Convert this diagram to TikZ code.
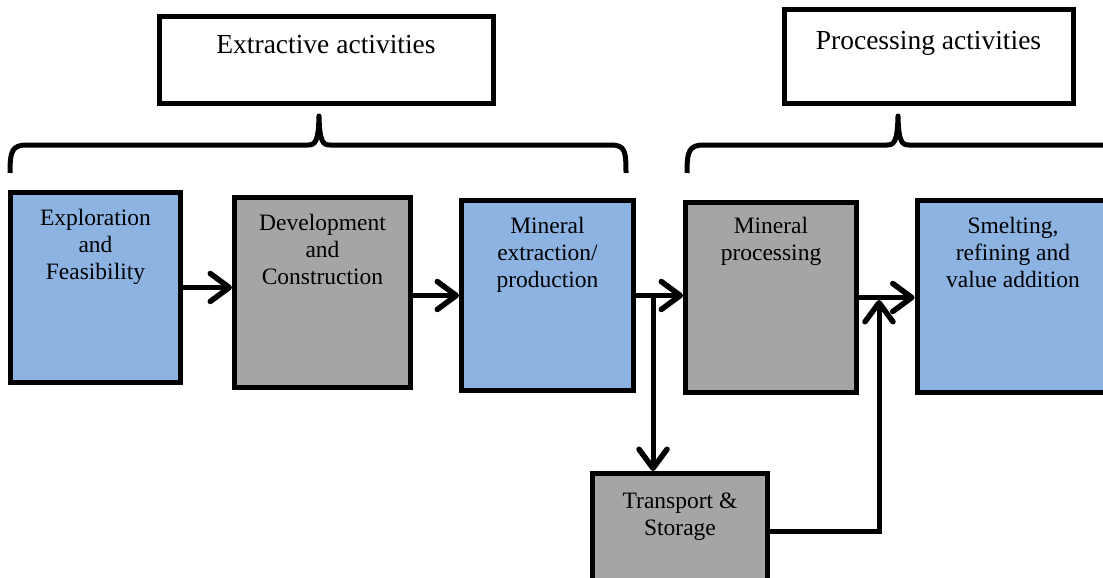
\documentclass[tikz,border=0pt]{standalone}
\usepackage{fontspec}
\setmainfont{Liberation Serif}
\usetikzlibrary{arrows.meta}
\definecolor{stageblue}{HTML}{8DB3E2}
\definecolor{stagegray}{HTML}{A5A5A5}
% centred multi-line text whose baseline is that of the first line
\newcommand{\stagetext}[1]{\parbox[t]{240pt}{\centering #1}}

\begin{document}
\begin{tikzpicture}[x=1pt,y=-1pt,
  stagebox/.style={draw=black, line width=5pt, inner sep=0pt, outer sep=2.5pt},
  blue box/.style={stagebox, fill=stageblue},
  gray box/.style={stagebox, fill=stagegray},
  headbox/.style={stagebox, fill=white},
  stagelabel/.style={anchor=base, inner sep=0pt, font=\fontsize{23.5}{27}\selectfont},
  headlabel/.style={anchor=base, inner sep=0pt, font=\fontsize{27.5}{32}\selectfont},
  flow/.style={line width=5pt, -{Straight Barb[length=19pt,width=28pt,round,line width=5.5pt]}},
  bracket/.style={line width=5pt, line join=round}
]
\useasboundingbox (0,0) rectangle (1103,578);
\fill[white] (0,0) rectangle (1103,578);
\clip (0,0) rectangle (1103,578);

% group headings
\node[headbox, minimum width=334pt, minimum height=86pt] (h1) at (326,60) {};
\node[headlabel] (h1t) at (326,54) {Extractive activities};
\node[headbox, minimum width=289pt, minimum height=93pt] (h2) at (928.5,56.5) {};
\node[headlabel] (h2t) at (928.5,49) {Processing activities};

% curly brackets under the headings
\draw[bracket] (10,173) .. controls (10,151) and (12,145) .. (27,145) -- (308,145)
  .. controls (315,145) and (318.5,142) .. (319,116)
  .. controls (319.5,142) and (323,145) .. (330,145) -- (611,145)
  .. controls (625,145) and (626,151) .. (626,173);
\draw[bracket] (687,173) .. controls (687,151) and (689,145) .. (704,145) -- (887,145)
  .. controls (894,145) and (897.5,142) .. (898,116)
  .. controls (898.5,142) and (902,145) .. (909,145) -- (1130,145);

% stages
\node[blue box, minimum width=170pt, minimum height=190pt] (b1) at (95.5,287.5) {};
\node[gray box, minimum width=176pt, minimum height=190pt] (b2) at (322.5,292.5) {};
\node[blue box, minimum width=172pt, minimum height=190pt] (b3) at (547.5,295.5) {};
\node[gray box, minimum width=171pt, minimum height=190pt] (b4) at (771,297.5) {};
\node[blue box, minimum width=192pt, minimum height=192pt] (b5) at (1013,296.5) {};
\node[gray box, minimum width=175pt, minimum height=115pt] (ts) at (680,531) {};

\node[stagelabel] (b1t) at ([yshift=-35pt]b1.north) {\stagetext{Exploration\\and\\Feasibility}};
\node[stagelabel] (b2t) at ([yshift=-35pt]b2.north) {\stagetext{Development\\and\\Construction}};
\node[stagelabel] (b3t) at ([yshift=-35pt]b3.north) {\stagetext{Mineral\\extraction/\\production}};
\node[stagelabel] (b4t) at ([yshift=-33pt]b4.north) {\stagetext{Mineral\\processing}};
\node[stagelabel] (b5t) at ([yshift=-35pt]b5.north) {\stagetext{Smelting,\\refining and\\value addition}};
\node[stagelabel] (tst) at ([yshift=-37pt]ts.north) {\stagetext{Transport \&\\Storage}};

% flow between stages
\draw[flow] (b1.east) -- (b2.west |- b1.east);
\draw[flow] (b2.east |- b3.west) -- (b3.west);
\draw[flow] (b3.east) -- (b4.west |- b3.east);
\draw[flow] (b4.east) -- (b5.west |- b4.east);

% branch to transport and back into smelting
\coordinate (j1) at (653,295.5);
\coordinate (j2) at (879,300);
\draw[flow] (j1) -- (j1 |- ts.north);
\draw[flow] (ts.east) -| (j2);
\end{tikzpicture}
\end{document}
